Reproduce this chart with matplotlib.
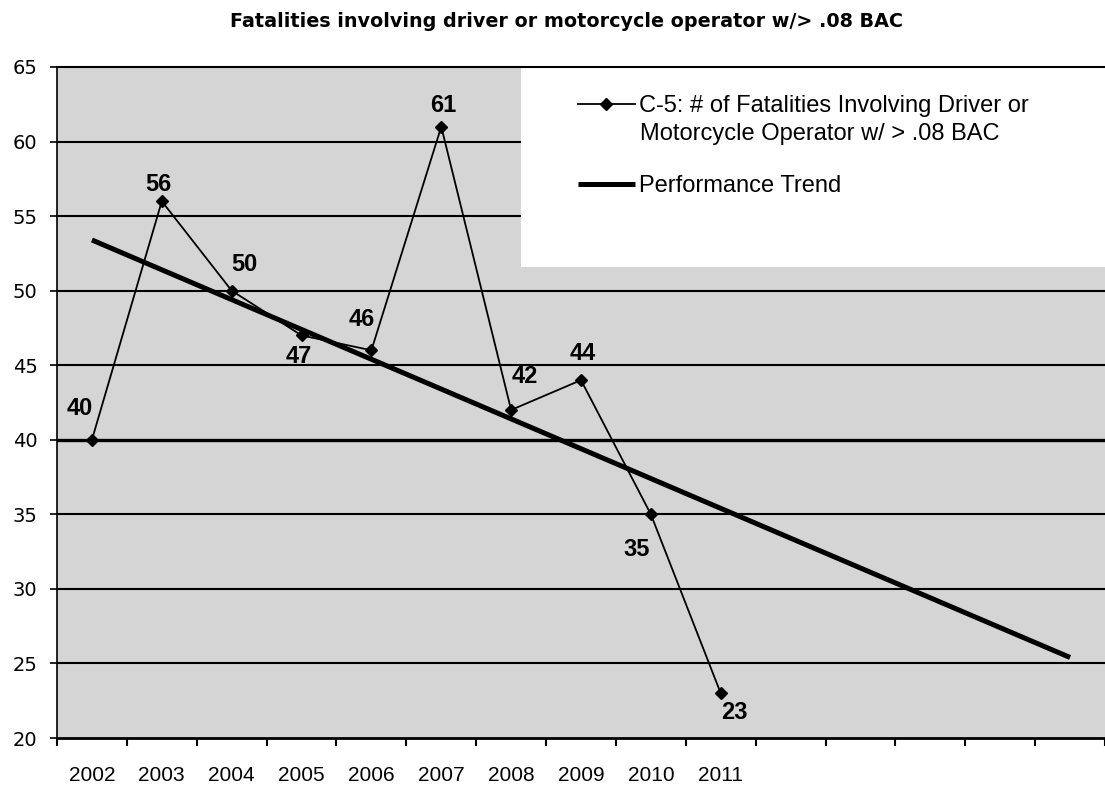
import matplotlib.pyplot as plt
from matplotlib.patches import Rectangle

# ----------------------------------------
# C-5: fatalities involving a driver or motorcycle
# operator with BAC above .08, 2002-2011, plus the
# performance trend carried on past the data.
# ----------------------------------------

years = [2002, 2003, 2004, 2005, 2006, 2007, 2008, 2009, 2010, 2011]
fatalities = [40, 56, 50, 47, 46, 61, 42, 44, 35, 23]

# trend line: value at the first and the last slot
trend_ends = [53.4, 25.4]
N_SLOTS = 15           # category slots drawn on the x axis

y_ticks = [20, 25, 30, 35, 40, 45, 50, 55, 60, 65]
TARGET_LEVEL = 40      # the heavier horizontal rule

SERIES_LABEL = "C-5: # of Fatalities Involving Driver or"
SERIES_LABEL_2 = "Motorcycle Operator w/ > .08 BAC"
TREND_LABEL = "Performance Trend"
TITLE = "Fatalities involving driver or motorcycle operator w/> .08 BAC"

# where each value label sits relative to its point (pixels, y up)
label_offsets = [(-12, 31), (-3, 17), (13, 26), (-3, -21), (-10, 31),
                 (2, 21), (14, 33), (2, 27), (-14, -35), (14, -19)]


def main():
    plt.rcParams["font.family"] = ["Liberation Sans", "DejaVu Sans"]

    fig = plt.figure(figsize=(11.05, 7.91), dpi=100)
    ax = fig.add_axes([57 / 1105, 53 / 791, 1 - 57 / 1105, 671 / 791])
    ax.set_facecolor("#d5d5d5")

    # slot i spans [i, i+1], points sit in the middle
    x = [i + 0.5 for i in range(len(years))]
    ax.set_xlim(0, 1048 / 70.07)
    ax.set_ylim(y_ticks[0], y_ticks[-1])

    # horizontal rules
    for y in y_ticks[1:-1]:
        lw = 2.4 if y == TARGET_LEVEL else 1.5
        ax.axhline(y, color="black", lw=lw, zorder=1)

    ax.plot([0.5, N_SLOTS - 0.5], trend_ends, color="black", lw=3.6,
            solid_capstyle="butt", zorder=3, label=TREND_LABEL)
    ax.plot(x, fatalities, color="black", lw=1.3, marker="D", ms=6,
            zorder=4, label=SERIES_LABEL)

    for xi, v, (dx, dy) in zip(x, fatalities, label_offsets):
        ax.annotate(str(v), (xi, v), xytext=(dx, dy),
                    textcoords="offset pixels", ha="center", va="center",
                    fontsize=17, fontweight="bold", zorder=5)

    # axes styling
    ax.spines["right"].set_visible(False)
    ax.spines["top"].set_linewidth(1.5)
    ax.spines["left"].set_linewidth(1.2)
    ax.spines["bottom"].set_linewidth(2.0)

    ax.set_yticks(y_ticks)
    ax.set_yticklabels([str(v) for v in y_ticks], fontsize=14,
                       family="DejaVu Sans")
    ax.tick_params(axis="y", direction="out", length=5, width=1.2, pad=9)

    ax.set_xticks(range(0, N_SLOTS + 1))
    ax.set_xticklabels([])
    ax.set_xticks(x, minor=True)
    ax.set_xticklabels([str(yr) for yr in years], minor=True, fontsize=15)
    ax.tick_params(axis="x", which="major", direction="out", length=6,
                   width=1.5)
    ax.tick_params(axis="x", which="minor", length=0, pad=20)

    # white legend panel in the upper right
    ax.add_patch(Rectangle((0.443, 0.702), 0.557, 0.298,
                           transform=ax.transAxes, facecolor="white",
                           edgecolor="none", zorder=2))
    handles, labels = ax.get_legend_handles_labels()
    leg = ax.legend(handles[::-1], labels[::-1], loc="upper left",
                    bbox_to_anchor=(0.497, 0.9585), frameon=False,
                    fontsize=17, handlelength=2.4, handletextpad=0.2,
                    labelspacing=2.46, borderpad=0, borderaxespad=0)
    leg.set_zorder(6)
    # second line of the series label, under the first
    ax.text(0.556, 0.891, SERIES_LABEL_2, transform=ax.transAxes,
            fontsize=17, va="baseline", ha="left", zorder=6)

    fig.text(0.513, 0.973, TITLE, ha="center", va="center",
             fontsize=13.8, fontweight="bold", family="DejaVu Sans")

    fig.savefig("out.png", dpi=100)


if __name__ == "__main__":
    main()
